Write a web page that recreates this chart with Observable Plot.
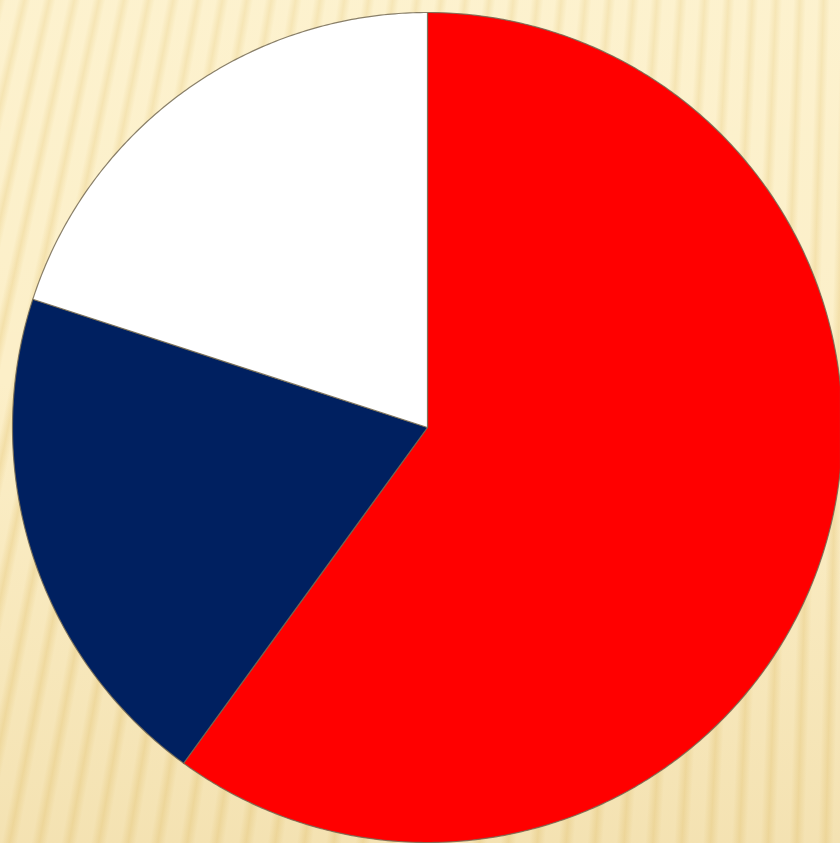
<!DOCTYPE html>
<html>
<head>
<meta charset="utf-8">
<script src="https://cdn.jsdelivr.net/npm/d3@7"></script>
<script src="https://cdn.jsdelivr.net/npm/@observablehq/plot@0.6"></script>
<style>
  html, body { margin: 0; padding: 0; }
  body {
    width: 840px; height: 843px; overflow: hidden;
    background:
      linear-gradient(to bottom, rgba(255,250,225,0.25) 0%, rgba(255,250,225,0) 45%, rgba(215,180,100,0.22) 100%),
      repeating-conic-gradient(from 0deg at 950px -4000px,
        #fcefc8 0deg, #fcefc8 0.16deg, #f3dfa8 0.25deg, #fcefc8 0.34deg);
  }
  #chart svg { display: block; }
</style>
</head>
<body>
<div id="chart"></div>
<script>
// Slice data (clockwise from 12 o'clock)
const categories = ["Red part", "Blue part", "White part"];
const shares = [60, 20, 20];
const colors = ["#ff0000", "#002060", "#ffffff"];

const W = 840, H = 843;
const cx = 427, cy = 427, R = 415;

// Build slice polygons in unit-circle coordinates (y down)
const total = d3.sum(shares);
let acc = 0;
const features = categories.map((c, i) => {
  const a0 = acc / total * 2 * Math.PI;
  acc += shares[i];
  const a1 = acc / total * 2 * Math.PI;
  const n = Math.max(2, Math.ceil((a1 - a0) / (Math.PI / 360)));
  const ring = [[0, 0]];
  for (let k = 0; k <= n; k++) {
    const a = a0 + (a1 - a0) * k / n;
    ring.push([Math.sin(a), -Math.cos(a)]);
  }
  ring.push([0, 0]);
  return {type: "Feature", properties: {category: c, share: shares[i]}, geometry: {type: "Polygon", coordinates: [ring]}};
});

const domain = {type: "MultiPoint", coordinates: [[-cx / R, -cy / R], [(W - cx) / R, (H - cy) / R]]};

const chart = Plot.plot({
  width: W,
  height: H,
  margin: 0,
  style: {background: "none", overflow: "visible"},
  projection: {type: "identity", domain},
  color: {type: "ordinal", domain: categories, range: colors},
  marks: [
    Plot.geo(features, {
      fill: d => d.properties.category,
      stroke: "#746a52",
      strokeWidth: 1.2,
      strokeOpacity: 0.85
    })
  ]
});
document.getElementById("chart").append(chart);
</script>
</body>
</html>
